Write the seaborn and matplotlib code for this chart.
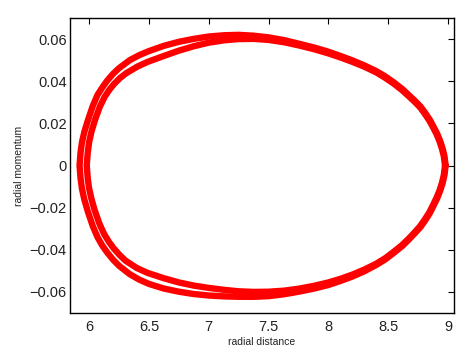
import matplotlib
matplotlib.use("Agg")
import matplotlib.pyplot as plt
import pandas as pd
import seaborn as sns

# ---- data (radial phase-space orbit) ----
# outer loop: upper half (right -> left)
outer_top_x = [8.98, 8.97, 8.955, 8.935, 8.91, 8.88, 8.85, 8.81, 8.77, 8.725, 8.68, 8.62,
               8.55, 8.48, 8.40, 8.30, 8.20, 8.10, 8.00, 7.88, 7.76, 7.63, 7.50, 7.375,
               7.25, 7.125, 7.00, 6.875, 6.75, 6.625, 6.50, 6.42, 6.34, 6.25, 6.20, 6.15,
               6.11, 6.07, 6.03, 5.99, 5.96, 5.94, 5.928, 5.92]
outer_top_y = [0.0, 0.0045, 0.0080, 0.0115, 0.0150, 0.0183, 0.0215, 0.0249, 0.0280, 0.0306,
               0.0330, 0.0362, 0.0393, 0.0421, 0.0448, 0.0475, 0.0499, 0.0520, 0.0540,
               0.0560, 0.0577, 0.0595, 0.0608, 0.0616, 0.0620, 0.0618, 0.0612, 0.0601,
               0.0587, 0.0568, 0.0543, 0.0524, 0.0500, 0.0462, 0.0435, 0.0402, 0.0370,
               0.0335, 0.0282, 0.0215, 0.0160, 0.0110, 0.0060, 0.0]
# outer loop: lower half (left -> right)
outer_bot_x = [5.92, 5.928, 5.94, 5.96, 5.99, 6.03, 6.07, 6.11, 6.15, 6.20, 6.25, 6.34,
               6.42, 6.50, 6.625, 6.75, 6.875, 7.00, 7.125, 7.25, 7.375, 7.50, 7.63, 7.76,
               7.88, 8.00, 8.10, 8.20, 8.30, 8.40, 8.48, 8.55, 8.62, 8.68, 8.725, 8.77,
               8.81, 8.85, 8.88, 8.91, 8.935, 8.955, 8.97, 8.98]
outer_bot_y = [0.0, -0.0060, -0.0110, -0.0162, -0.0220, -0.0287, -0.0340, -0.0380, -0.0412,
               -0.0447, -0.0476, -0.0516, -0.0542, -0.0562, -0.0584, -0.0599, -0.0610,
               -0.0617, -0.0621, -0.0623, -0.0623, -0.0620, -0.0611, -0.0598, -0.0584,
               -0.0567, -0.0548, -0.0527, -0.0502, -0.0472, -0.0444, -0.0413, -0.0381,
               -0.0347, -0.0320, -0.0292, -0.0260, -0.0224, -0.0190, -0.0155, -0.0119,
               -0.0083, -0.0046, 0.0]

# inner loop: upper half (right -> left)
inner_top_x = [8.975, 8.965, 8.95, 8.93, 8.905, 8.875, 8.845, 8.805, 8.765, 8.72, 8.675,
               8.615, 8.545, 8.475, 8.40, 8.30, 8.20, 8.10, 8.00, 7.88, 7.76, 7.63, 7.50,
               7.375, 7.25, 7.125, 7.00, 6.875, 6.75, 6.625, 6.49, 6.405, 6.31, 6.26,
               6.21, 6.17, 6.13, 6.09, 6.05, 6.02, 6.00, 5.988, 5.98]
inner_top_y = [0.0, 0.0044, 0.0078, 0.0113, 0.0148, 0.0181, 0.0212, 0.0246, 0.0277, 0.0303,
               0.0327, 0.0358, 0.0389, 0.0416, 0.0442, 0.0469, 0.0492, 0.0513, 0.0532,
               0.0552, 0.0569, 0.0585, 0.0596, 0.0601, 0.0600, 0.0594, 0.0583, 0.0566,
               0.0545, 0.0520, 0.0492, 0.0470, 0.0438, 0.0416, 0.0388, 0.0360, 0.0326,
               0.0280, 0.0218, 0.0162, 0.0112, 0.0060, 0.0]
# inner loop: lower half (left -> right)
inner_bot_x = [5.98, 5.988, 6.00, 6.02, 6.045, 6.085, 6.125, 6.165, 6.205, 6.255, 6.305,
               6.40, 6.49, 6.625, 6.75, 6.875, 7.00, 7.125, 7.25, 7.375, 7.50, 7.63, 7.76,
               7.88, 8.00, 8.10, 8.20, 8.30, 8.40, 8.475, 8.545, 8.615, 8.675, 8.72, 8.765,
               8.805, 8.845, 8.875, 8.905, 8.93, 8.95, 8.965, 8.975]
inner_bot_y = [0.0, -0.0060, -0.0110, -0.0160, -0.0210, -0.0275, -0.0325, -0.0362, -0.0393,
               -0.0425, -0.0452, -0.0487, -0.0510, -0.0535, -0.0555, -0.0570, -0.0581,
               -0.0590, -0.0597, -0.0600, -0.0599, -0.0594, -0.0584, -0.0571, -0.0555,
               -0.0538, -0.0518, -0.0494, -0.0466, -0.0440, -0.0410, -0.0378, -0.0345,
               -0.0318, -0.0289, -0.0257, -0.0221, -0.0187, -0.0152, -0.0117, -0.0081,
               -0.0045, 0.0]

x_ticks = [6, 6.5, 7, 7.5, 8, 8.5, 9]
x_tick_labels = ["6", "6.5", "7", "7.5", "8", "8.5", "9"]
y_ticks = [-0.06, -0.04, -0.02, 0, 0.02, 0.04, 0.06]
y_tick_labels = ["\u22120.06", "\u22120.04", "\u22120.02", "0", "0.02", "0.04", "0.06"]

# ---- build long table ----
frames = []
for name, tx, ty, bx, by in [("outer", outer_top_x, outer_top_y, outer_bot_x, outer_bot_y),
                             ("inner", inner_top_x, inner_top_y, inner_bot_x, inner_bot_y)]:
    xs = tx + bx[1:]
    ys = ty + by[1:]
    frames.append(pd.DataFrame({"r": xs, "p": ys, "loop": name}))
df = pd.concat(frames, ignore_index=True)

sns.set_style("white")
plt.rcParams["font.family"] = ["Liberation Sans", "DejaVu Sans"]

fig = plt.figure(figsize=(4.65, 3.53), dpi=100)
ax = fig.add_axes([70 / 465, 1 - 313 / 353, 384 / 465, 295 / 353])

sns.lineplot(data=df, x="r", y="p", units="loop", estimator=None, sort=False,
             color="#ff0000", lw=4.6, ax=ax, legend=False)
for ln in ax.lines:
    ln.set_solid_joinstyle("round")
    ln.set_solid_capstyle("round")

ax.set_xlim(5.84, 9.05)
ax.set_ylim(-0.07, 0.07)
ax.set_xticks(x_ticks)
ax.set_xticklabels(x_tick_labels)
ax.set_yticks(y_ticks)
ax.set_yticklabels(y_tick_labels)
ax.tick_params(axis="both", direction="in", top=True, right=True, length=4,
               width=0.8, colors="black", labelsize=10.5, labelcolor="#222222")
ax.tick_params(axis="x", pad=5)
ax.tick_params(axis="y", pad=2.5)
for s in ax.spines.values():
    s.set_visible(True)
    s.set_color("black")
    s.set_linewidth(1.0)

ax.set_xlabel("radial distance", fontsize=7.5, color="#222222", labelpad=2)
ax.set_ylabel("radial momentum", fontsize=7.5, color="#222222", labelpad=4)

fig.savefig("out.png", dpi=100)
